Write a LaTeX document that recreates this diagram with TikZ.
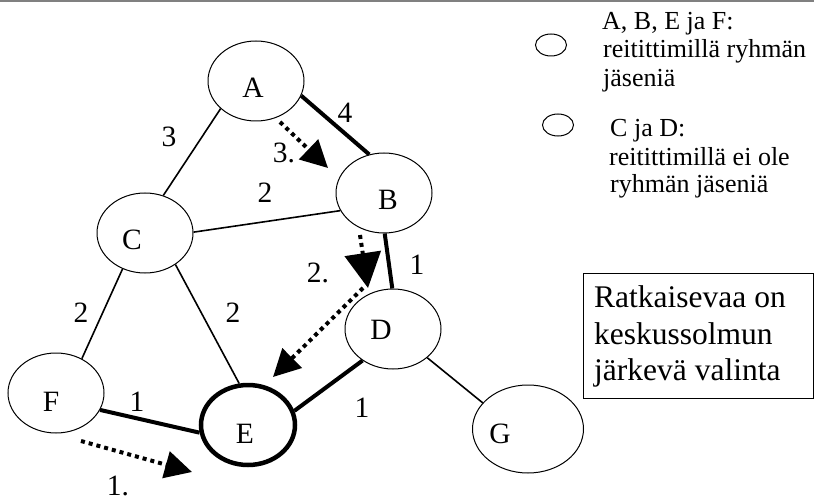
\documentclass[tikz,border=0pt]{standalone}
\usepackage{fontspec}
\setmainfont{Liberation Serif}
\usetikzlibrary{shapes.geometric,arrows.meta}
\begin{document}
\begin{tikzpicture}[x=1pt,y=-1pt,
  router/.style={ellipse,draw,line width=1pt,minimum width=96pt,minimum height=80pt,inner sep=0pt},
  keyell/.style={ellipse,draw,line width=1pt,minimum width=31pt,minimum height=22pt,inner sep=0pt},
  lab/.style={font=\fontsize{29.5}{33}\selectfont,inner sep=0pt},
  legtext/.style={font=\fontsize{26}{29}\selectfont,inner sep=0pt,anchor=base west},
  boxtext/.style={font=\fontsize{31.5}{36}\selectfont,inner sep=0pt,anchor=base west},
  edgethin/.style={line width=1.6pt},
  edgethick/.style={line width=4pt},
  route/.style={line width=4pt,dash pattern=on 4pt off 4pt,-{Triangle[length=27pt,width=27pt]}}
]
\useasboundingbox (0,0) rectangle (814,500);
\draw[gray,line width=2pt] (0,1) -- (814,1);

% routers
\node[router] (A) at (256,81) {};
\node[router] (B) at (384,193) {};
\node[router] (C) at (145,233) {};
\node[router] (D) at (393,329) {};
\node[router] (F) at (56,393) {};
\node[router,line width=4.5pt,minimum width=94pt,minimum height=80pt] (E) at (248,425) {};
\node[router,minimum width=111pt,minimum height=88pt] (G) at (528,429) {};

% router names
\node[lab] (tA) at (253,88) {A};
\node[lab] (tB) at (388,200) {B};
\node[lab] (tC) at (132,240) {C};
\node[lab] (tD) at (381,330) {D};
\node[lab] (tE) at (245,434) {E};
\node[lab] (tF) at (51,402) {F};
\node[lab] (tG) at (500,434) {G};

% links
\draw[edgethin]  (A.218) -- (C.64);
\draw[edgethick] (A.342) -- (B.111);
\draw[edgethin]  (C.1)   -- (B.202);
\draw[edgethick] (B.271) -- (D.91);
\draw[edgethin]  (C.238) -- (F.53);
\draw[edgethin]  (C.314) -- (E.102);
\draw[edgethick] (F.339) -- (E.189);
\draw[edgethick] (E.17)  -- (D.226);
\draw[edgethin]  (D.320) -- (G.150);

% link weights
\node[lab] (w1) at (169,137) {3};
\node[lab] (w2) at (345,113) {4};
\node[lab] (w3) at (265,193) {2};
\node[lab] (w4) at (417,265) {1};
\node[lab] (w5) at (81,313) {2};
\node[lab] (w6) at (233,313) {2};
\node[lab] (w7) at (137,402) {1};
\node[lab] (w8) at (362,408) {1};

% route steps
\coordinate (r1s) at (81,441);  \coordinate (r1e) at (192,472);
\coordinate (r2s) at (363,288); \coordinate (r2e) at (273,377);
\coordinate (r3s) at (360,235); \coordinate (r3e) at (368,288);
\coordinate (r4s) at (280,122); \coordinate (r4e) at (328,168);
\draw[route] (r1s) -- (r1e);
\draw[route] (r2s) -- (r2e);
\draw[route,-{Triangle[length=35pt,width=36pt]}] (r3s) -- (r3e);
\draw[route] (r4s) -- (r4e);
\node[lab] (s1) at (118,486) {1.};
\node[lab] (s2) at (318,273) {2.};
\node[lab] (s3) at (284,153) {3.};

% legend
\node[keyell] (k1) at (551,45) {};
\node[keyell] (k2) at (558,125) {};
\node[legtext] (l1a) at (602,30) {A, B, E ja F:};
\node[legtext] (l1b) at (603,58) {reitittimillä ryhmän};
\node[legtext] (l1c) at (603,87) {jäseniä};
\node[legtext] (l2a) at (610,137) {C ja D:};
\node[legtext] (l2b) at (609,165) {reitittimillä ei ole};
\node[legtext] (l2c) at (610,193) {ryhmän jäseniä};

% note box
\node[draw,line width=1pt,minimum width=230pt,minimum height=125pt,inner sep=0pt] (box) at (698,335.5) {};
\node[boxtext] (b1) at (594,307) {Ratkaisevaa on};
\node[boxtext] (b2) at (594,344) {keskussolmun};
\node[boxtext] (b3) at (594,380) {järkevä valinta};
\end{tikzpicture}
\end{document}
